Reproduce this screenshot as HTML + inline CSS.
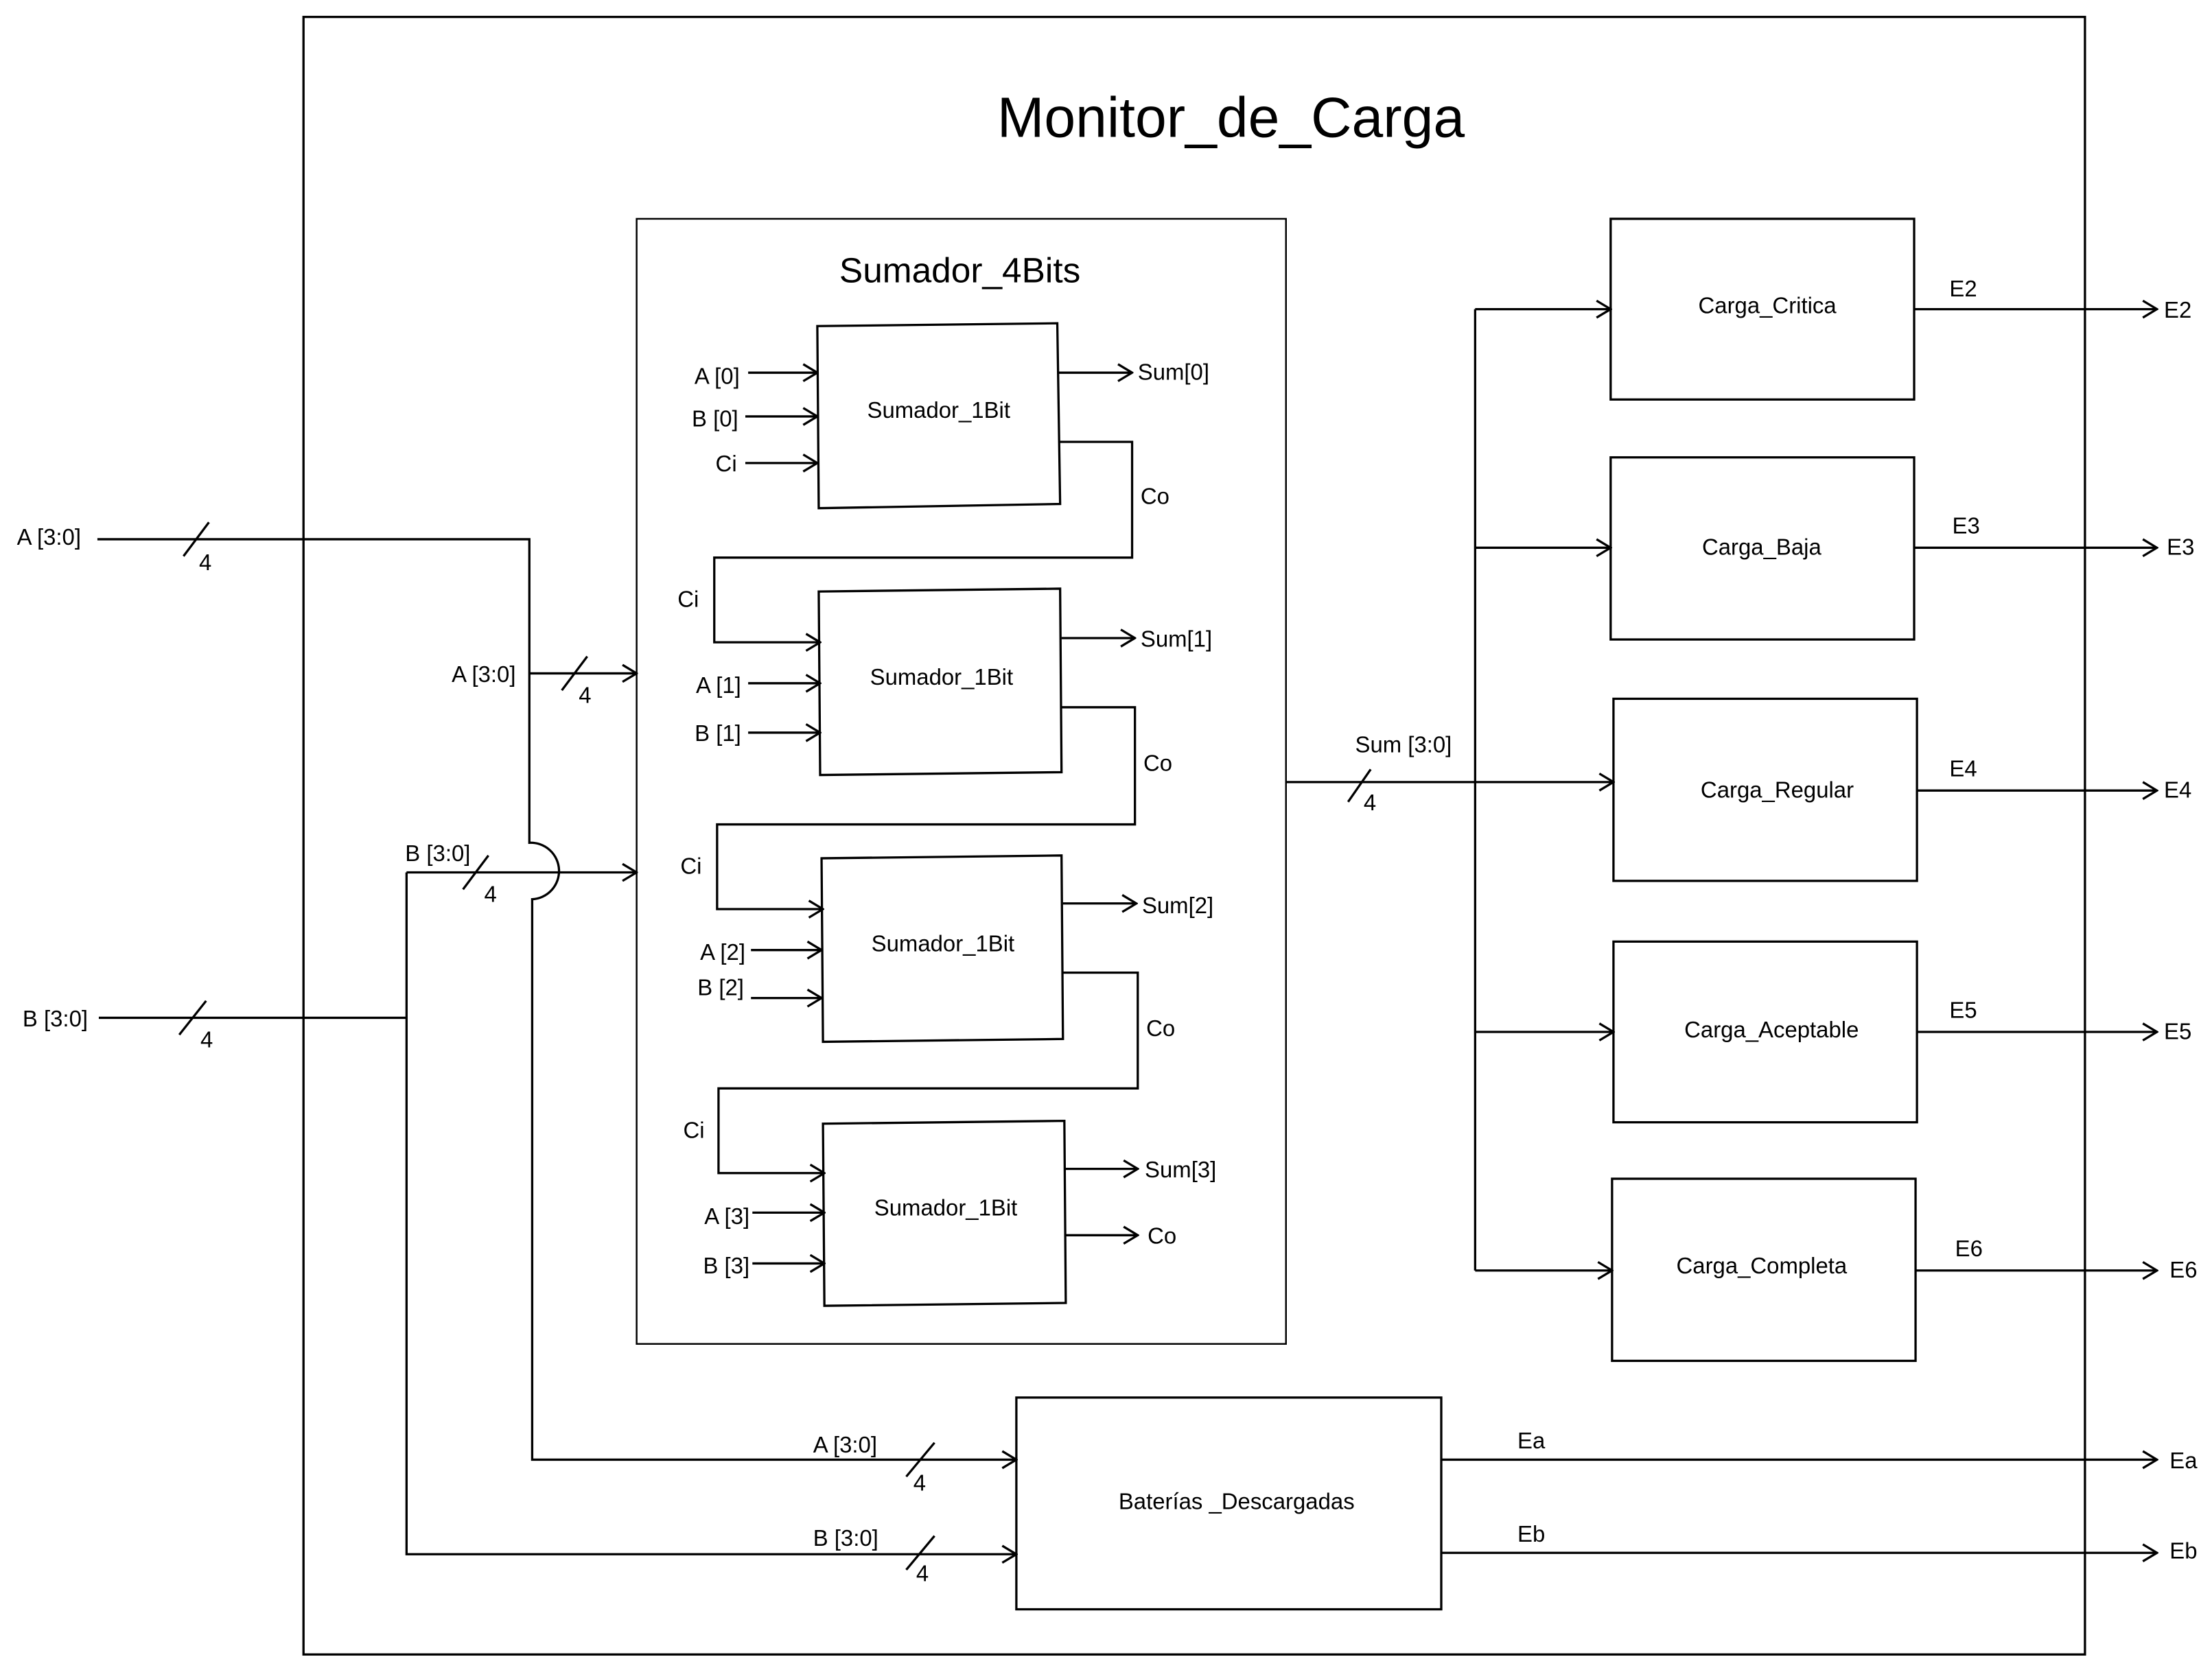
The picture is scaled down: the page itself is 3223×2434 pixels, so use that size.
<!DOCTYPE html>
<html><head><meta charset="utf-8"><style>
html,body{margin:0;padding:0;background:#fff;}
svg{display:block;}
text{font-family:"Liberation Sans",sans-serif;fill:#000;}
</style></head><body>
<svg width="3223" height="2434" viewBox="0 0 1567 1183" preserveAspectRatio="none" xmlns="http://www.w3.org/2000/svg">
<defs>
<marker id="ar" viewBox="0 0 12 14" refX="11" refY="7" markerWidth="12" markerHeight="14" markerUnits="userSpaceOnUse" orient="auto">
<path d="M1,1 L11,7 L1,13" fill="none" stroke="#000" stroke-width="1.6"/>
</marker>
</defs>
<g fill="none" stroke="#000" stroke-width="1.6">
<rect x="215" y="12" width="1262" height="1160"/>
<rect x="451" y="155" width="460" height="797" stroke-width="1.2"/>
<!-- sumador boxes -->
<path d="M579,231 L749,229 L751,357 L580,360 Z"/>
<path d="M580,419 L751,417 L752,547 L581,549 Z"/>
<path d="M582,608 L752,606 L753,736 L583,738 Z"/>
<path d="M583,796 L754,794 L755,923 L584,925 Z"/>
<!-- inputs -->
<line x1="530" y1="264" x2="579" y2="264" marker-end="url(#ar)"/>
<line x1="528" y1="295" x2="579" y2="295" marker-end="url(#ar)"/>
<line x1="528" y1="328" x2="579" y2="328" marker-end="url(#ar)"/>
<line x1="750" y1="264" x2="802" y2="264" marker-end="url(#ar)"/>
<path d="M750,313 H802 V395 H506 V455 H581" marker-end="url(#ar)"/>
<line x1="752" y1="452" x2="804" y2="452" marker-end="url(#ar)"/>
<line x1="530" y1="484" x2="581" y2="484" marker-end="url(#ar)"/>
<line x1="530" y1="519" x2="581" y2="519" marker-end="url(#ar)"/>
<path d="M752,501 H804 V584 H508 V644 H583" marker-end="url(#ar)"/>
<line x1="753" y1="640" x2="805" y2="640" marker-end="url(#ar)"/>
<line x1="532" y1="673" x2="582" y2="673" marker-end="url(#ar)"/>
<line x1="532" y1="707" x2="582" y2="707" marker-end="url(#ar)"/>
<path d="M753,689 H806 V771 H509 V831 H584" marker-end="url(#ar)"/>
<line x1="755" y1="828" x2="806" y2="828" marker-end="url(#ar)"/>
<line x1="755" y1="875" x2="806" y2="875" marker-end="url(#ar)"/>
<line x1="533" y1="859" x2="584" y2="859" marker-end="url(#ar)"/>
<line x1="533" y1="895" x2="584" y2="895" marker-end="url(#ar)"/>
<!-- A bus -->
<path d="M69,382 H375 V597 A20,20 0 0 1 377,637 V1034 H720" marker-end="url(#ar)"/>
<line x1="375" y1="477" x2="451" y2="477" marker-end="url(#ar)"/>
<!-- B bus -->
<path d="M70,721 H288"/>
<path d="M288,618 V1101 H720" marker-end="url(#ar)"/>
<line x1="288" y1="618" x2="451" y2="618" marker-end="url(#ar)"/>
<!-- slashes -->
<line x1="130" y1="394" x2="148" y2="370"/>
<line x1="127" y1="733" x2="146" y2="709"/>
<line x1="398" y1="489" x2="416" y2="465"/>
<line x1="328" y1="630" x2="346" y2="606"/>
<line x1="642" y1="1046" x2="662" y2="1022"/>
<line x1="642" y1="1112" x2="662" y2="1088"/>
<line x1="955" y1="568" x2="971" y2="545"/>
<!-- Sum bus -->
<line x1="911" y1="554" x2="1143" y2="554" marker-end="url(#ar)"/>
<line x1="1045" y1="219" x2="1045" y2="900"/>
<line x1="1045" y1="219" x2="1141" y2="219" marker-end="url(#ar)"/>
<line x1="1045" y1="388" x2="1141" y2="388" marker-end="url(#ar)"/>
<line x1="1045" y1="731" x2="1143" y2="731" marker-end="url(#ar)"/>
<line x1="1045" y1="900" x2="1142" y2="900" marker-end="url(#ar)"/>
<!-- carga boxes -->
<rect x="1141" y="155" width="215" height="128"/>
<rect x="1141" y="324" width="215" height="129"/>
<rect x="1143" y="495" width="215" height="129"/>
<rect x="1143" y="667" width="215" height="128"/>
<rect x="1142" y="835" width="215" height="129"/>
<line x1="1356" y1="219" x2="1528" y2="219" marker-end="url(#ar)"/>
<line x1="1356" y1="388" x2="1528" y2="388" marker-end="url(#ar)"/>
<line x1="1358" y1="560" x2="1528" y2="560" marker-end="url(#ar)"/>
<line x1="1358" y1="731" x2="1528" y2="731" marker-end="url(#ar)"/>
<line x1="1357" y1="900" x2="1528" y2="900" marker-end="url(#ar)"/>
<!-- baterias -->
<rect x="720" y="990" width="301" height="150"/>
<line x1="1021" y1="1034" x2="1528" y2="1034" marker-end="url(#ar)"/>
<line x1="1021" y1="1100" x2="1528" y2="1100" marker-end="url(#ar)"/>
</g>
<g font-size="16">
<text x="872" y="97" font-size="40" text-anchor="middle">Monitor_de_Carga</text>
<text x="680" y="200" font-size="25" text-anchor="middle">Sumador_4Bits</text>
<text x="665" y="296" text-anchor="middle">Sumador_1Bit</text>
<text x="667" y="485" text-anchor="middle">Sumador_1Bit</text>
<text x="668" y="674" text-anchor="middle">Sumador_1Bit</text>
<text x="670" y="861" text-anchor="middle">Sumador_1Bit</text>
<text x="524" y="272" text-anchor="end">A [0]</text>
<text x="523" y="302" text-anchor="end">B [0]</text>
<text x="522" y="334" text-anchor="end">Ci</text>
<text x="806" y="269">Sum[0]</text>
<text x="808" y="357">Co</text>
<text x="480" y="430">Ci</text>
<text x="525" y="491" text-anchor="end">A [1]</text>
<text x="525" y="525" text-anchor="end">B [1]</text>
<text x="808" y="458">Sum[1]</text>
<text x="810" y="546">Co</text>
<text x="482" y="619">Ci</text>
<text x="528" y="680" text-anchor="end">A [2]</text>
<text x="527" y="705" text-anchor="end">B [2]</text>
<text x="809" y="647">Sum[2]</text>
<text x="812" y="734">Co</text>
<text x="484" y="806">Ci</text>
<text x="531" y="867" text-anchor="end">A [3]</text>
<text x="531" y="902" text-anchor="end">B [3]</text>
<text x="811" y="834">Sum[3]</text>
<text x="813" y="881">Co</text>
<text x="12" y="386">A [3:0]</text>
<text x="141" y="404">4</text>
<text x="16" y="727">B [3:0]</text>
<text x="142" y="742">4</text>
<text x="320" y="483">A [3:0]</text>
<text x="410" y="498">4</text>
<text x="287" y="610">B [3:0]</text>
<text x="343" y="639">4</text>
<text x="576" y="1029">A [3:0]</text>
<text x="647" y="1056">4</text>
<text x="576" y="1095">B [3:0]</text>
<text x="649" y="1120">4</text>
<text x="876" y="1069" text-anchor="middle">Baterías _Descargadas</text>
<text x="1075" y="1026">Ea</text>
<text x="1537" y="1040">Ea</text>
<text x="1075" y="1092">Eb</text>
<text x="1537" y="1104">Eb</text>
<text x="960" y="533">Sum [3:0]</text>
<text x="966" y="574">4</text>
<text x="1252" y="222" text-anchor="middle">Carga_Critica</text>
<text x="1248" y="393" text-anchor="middle">Carga_Baja</text>
<text x="1259" y="565" text-anchor="middle">Carga_Regular</text>
<text x="1255" y="735" text-anchor="middle">Carga_Aceptable</text>
<text x="1248" y="902" text-anchor="middle">Carga_Completa</text>
<text x="1381" y="210">E2</text><text x="1533" y="225">E2</text>
<text x="1383" y="378">E3</text><text x="1535" y="393">E3</text>
<text x="1381" y="550">E4</text><text x="1533" y="565">E4</text>
<text x="1381" y="721">E5</text><text x="1533" y="736">E5</text>
<text x="1385" y="890">E6</text><text x="1537" y="905">E6</text>
</g>
</svg>
</body></html>
